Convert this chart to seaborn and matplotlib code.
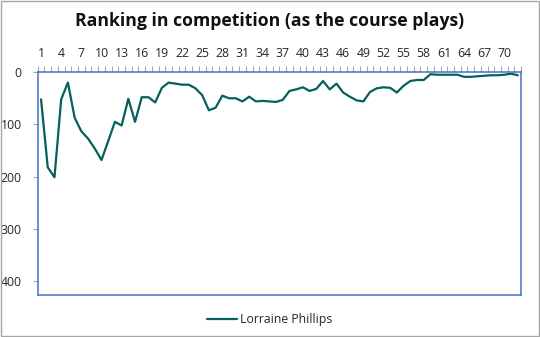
import matplotlib
matplotlib.use("Agg")
import matplotlib.pyplot as plt
import seaborn as sns
import pandas as pd
import numpy as np
from matplotlib.ticker import FixedLocator
from matplotlib.patches import Rectangle

# Hole-by-hole ranking for the player, holes 1..72
holes = list(range(1, 73))
ranking = [52, 182, 201, 52, 20, 87, 113, 127, 146, 168,
           132, 95, 102, 51, 95, 48, 48, 58, 30, 20,
           22, 24, 24, 31, 44, 73, 68, 45, 50, 50,
           56, 47, 56, 55, 56, 57, 53, 36, 33, 29,
           36, 32, 17, 33, 22, 39, 47, 54, 56, 38,
           31, 29, 30, 39, 26, 17, 15, 15, 4, 5,
           5, 5, 5, 9, 9, 8, 7, 6, 6, 5,
           3, 6]
player = "Lorraine Phillips"
title = "Ranking in competition (as the course plays)"
x_labels = list(range(1, 73, 3))
y_ticks = [0, 100, 200, 300, 400]

df = pd.DataFrame({"hole": holes, "rank": ranking, "player": player})

sns.set_theme(style="white")
plt.rcParams["font.family"] = ["Open Sans", "DejaVu Sans"]

fig = plt.figure(figsize=(5.40, 3.37), dpi=100)
ax = fig.add_axes([0.0698, 0.1246, 0.8952, 0.6614])

line_color = "#02625A"
sns.lineplot(data=df, x="hole", y="rank", hue="player", palette=[line_color],
             linewidth=1.6, ax=ax, legend=True)

ax.set_xlim(0.5, 72.5)
ax.set_ylim(426, 0)

ax.xaxis.tick_top()
ax.xaxis.set_major_locator(FixedLocator(x_labels))
ax.xaxis.set_minor_locator(FixedLocator(np.arange(0.5, 73, 1.0)))
ax.set_xticklabels([str(v) for v in x_labels])
ax.tick_params(axis="x", which="major", length=0, pad=9, labelsize=8.8,
               labelcolor="#262626", top=True, bottom=False)
ax.tick_params(axis="x", which="minor", length=4, width=0.8, color="#A6A6A6",
               top=True, bottom=False, direction="out")

ax.set_yticks(y_ticks)
ax.tick_params(axis="y", which="major", length=3.5, width=0.8, color="#A6A6A6",
               pad=8, labelsize=8.8, labelcolor="#262626", left=True)

ax.set_xlabel("")
ax.set_ylabel("")

for side in ["left", "right", "top", "bottom"]:
    ax.spines[side].set_visible(True)
    ax.spines[side].set_color("#4472C4")
    ax.spines[side].set_linewidth(1.1)

fig.suptitle(title, x=0.5, y=0.965, fontsize=12.7, fontweight="bold", color="#111111")

handles, labels = ax.get_legend_handles_labels()
ax.get_legend().remove()
fig.legend(handles, labels, loc="center", bbox_to_anchor=(0.5, 0.052),
           frameon=False, fontsize=8.8, handlelength=2.4, handletextpad=0.3,
           labelcolor="#262626")

# Light outer frame around the whole chart
fig.patches.append(Rectangle((0.001, 0.002), 0.997, 0.995, transform=fig.transFigure,
                             fill=False, edgecolor="#A6A6A6", linewidth=1.0))

fig.savefig("out.png", dpi=100, facecolor="white")
